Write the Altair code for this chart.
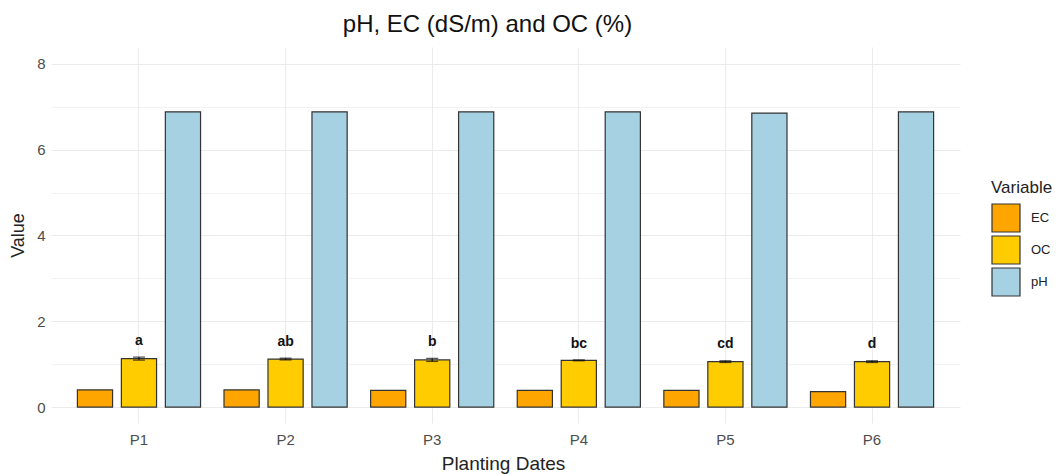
import altair as alt
import pandas as pd

dates = ["P1", "P2", "P3", "P4", "P5", "P6"]
variables = ["EC", "OC", "pH"]
ec_values = [0.40, 0.40, 0.39, 0.39, 0.39, 0.36]
oc_values = [1.13, 1.12, 1.10, 1.09, 1.06, 1.06]
oc_se = [0.035, 0.02, 0.035, 0.01, 0.02, 0.02]
ph_values = [6.88, 6.88, 6.88, 6.88, 6.85, 6.88]
letters = ["a", "ab", "b", "bc", "cd", "d"]
colors = ["#FFA500", "#FFCC00", "#A6D1E3"]

rows = []
for i, d in enumerate(dates):
    rows.append({"Date": d, "Variable": "EC", "Value": ec_values[i]})
    rows.append({"Date": d, "Variable": "OC", "Value": oc_values[i]})
    rows.append({"Date": d, "Variable": "pH", "Value": ph_values[i]})
bars_df = pd.DataFrame(rows)

oc_df = pd.DataFrame({"Date": dates, "OC": oc_values, "SE": oc_se, "Letter": letters})

FONT = "Liberation Sans"

xscale = alt.Scale(domain=dates, paddingInner=0.1, paddingOuter=0.15)
yscale = alt.Scale(domain=[-0.37, 8.39], nice=False, zero=False)

x_axis = alt.Axis(
    title="Planting Dates", labelAngle=0, ticks=False, domain=False, grid=True,
    bandPosition=0.5, gridColor="#EBEBEB", gridWidth=1.1,
    labelFontSize=15, labelColor="#4D4D4D", labelPadding=9, labelFont=FONT,
    titleFontSize=19, titleFontWeight="normal", titleColor="#222222", titleFont=FONT,
    titleX=452, titleY=46, titleBaseline="alphabetic", titleAnchor="start", titleAlign="center",
)
y_axis = alt.Axis(
    title="Value", values=[0, 1, 2, 3, 4, 5, 6, 7, 8],
    labelExpr="datum.value % 2 == 0 ? datum.label : ''",
    ticks=False, domain=False, grid=True, gridColor="#EBEBEB",
    gridWidth={"condition": {"test": "datum.value % 2 == 1", "value": 0.6}, "value": 1.1},
    labelFontSize=15, labelColor="#4D4D4D", labelPadding=6, labelFont=FONT,
    titleFontSize=18, titleFontWeight="normal", titleColor="#222222", titleFont=FONT,
    titleX=-33, titleBaseline="middle",
)

bars = alt.Chart(bars_df).mark_bar(stroke="#333333", strokeWidth=1.2).encode(
    x=alt.X("Date:N", scale=xscale, axis=x_axis),
    xOffset=alt.XOffset("Variable:N", scale=alt.Scale(domain=variables, paddingInner=0.2, paddingOuter=0.1)),
    y=alt.Y("Value:Q", scale=yscale, axis=y_axis),
    color=alt.Color(
        "Variable:N",
        scale=alt.Scale(domain=variables, range=colors),
        legend=alt.Legend(
            title="Variable", orient="none", legendX=940, legendY=133,
            symbolType="square", symbolSize=784, symbolStrokeColor="#333333",
            symbolStrokeWidth=1.2, symbolOpacity=1,
            titleFontSize=17, titleFontWeight="normal", titleColor="#222222", titleFont=FONT,
            titlePadding=6, labelFontSize=13, labelColor="#222222", labelFont=FONT,
            labelOffset=10, rowPadding=-4,
        ),
    ),
)

base = alt.Chart(oc_df).transform_calculate(
    lo="datum.OC - datum.SE", hi="datum.OC + datum.SE", ly="datum.OC + datum.SE + 0.38"
)

err = base.mark_rule(color="#111111", strokeWidth=1.2).encode(
    x=alt.X("Date:N", scale=xscale),
    y=alt.Y("lo:Q", scale=yscale),
    y2="hi:Q",
)
cap_lo = base.mark_tick(color="#111111", thickness=1.3, size=12).encode(
    x=alt.X("Date:N", scale=xscale), y=alt.Y("lo:Q", scale=yscale)
)
cap_hi = base.mark_tick(color="#111111", thickness=1.3, size=12).encode(
    x=alt.X("Date:N", scale=xscale), y=alt.Y("hi:Q", scale=yscale)
)
labels = base.mark_text(fontWeight="bold", fontSize=14, font=FONT, color="#111111", baseline="middle").encode(
    x=alt.X("Date:N", scale=xscale), y=alt.Y("ly:Q", scale=yscale), text="Letter:N"
)

chart = alt.layer(bars, err, cap_lo, cap_hi, labels).properties(
    width=909, height=376,
    title=alt.TitleParams("pH, EC (dS/m) and OC (%)", fontSize=24, fontWeight="normal",
                          font=FONT, color="#111111", anchor="middle", dx=-18, offset=10),
    autosize=alt.AutoSizeParams(type="none"),
    padding={"left": 43, "top": 39, "right": 96, "bottom": 60},
).configure_view(stroke=None)

chart.save("out.html", embed_options={"renderer": "svg", "actions": False})
